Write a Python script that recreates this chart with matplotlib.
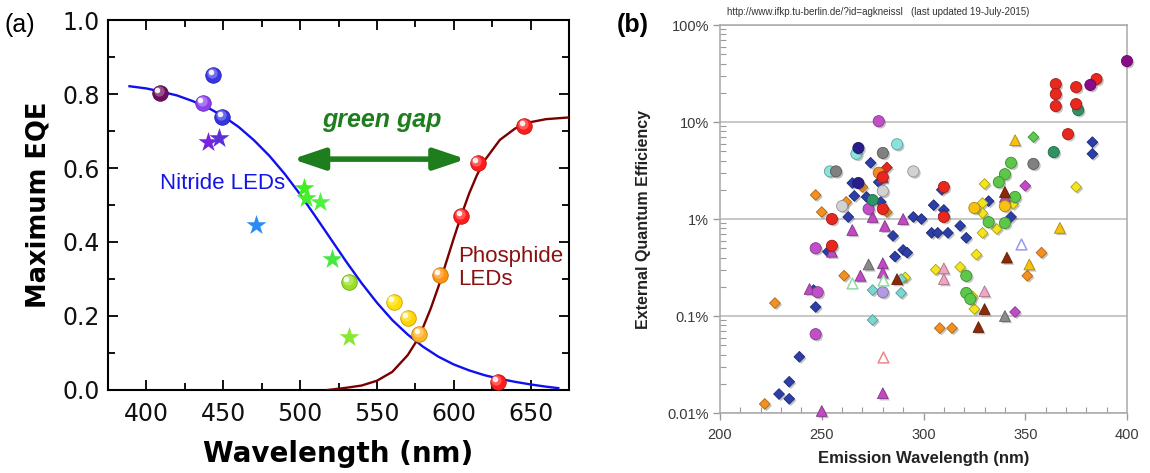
import matplotlib
matplotlib.use('Agg')
import matplotlib.pyplot as plt
import matplotlib.colors as mcolors
import matplotlib.transforms as mtransforms
import matplotlib.patheffects as pe
from matplotlib.patches import FancyArrowPatch
from matplotlib.ticker import MultipleLocator, LogLocator, NullFormatter

plt.rcParams['font.family'] = ['Liberation Sans', 'DejaVu Sans']

# ---- panel (a): maximum EQE of visible LEDs ----
nitride_curve_nm = [389, 400, 410, 420, 430, 440, 450, 460, 470, 480, 490, 500, 510, 520,
                    530, 540, 550, 560, 570, 580, 590, 600, 610, 620, 630, 640, 650, 660, 668]
nitride_curve_eqe = [0.821, 0.815, 0.806, 0.796, 0.781, 0.763, 0.740, 0.711, 0.675, 0.633,
                     0.584, 0.529, 0.469, 0.408, 0.347, 0.289, 0.236, 0.189, 0.150, 0.117,
                     0.090, 0.069, 0.053, 0.040, 0.030, 0.022, 0.015, 0.009, 0.005]
phosphide_curve_nm = [518, 530, 540, 550, 560, 570, 575, 580, 585, 590, 595, 600, 605, 610,
                      615, 620, 630, 640, 650, 660, 676]
phosphide_curve_eqe = [0.0, 0.006, 0.012, 0.025, 0.049, 0.094, 0.127, 0.169, 0.220, 0.279,
                       0.344, 0.410, 0.473, 0.531, 0.580, 0.620, 0.676, 0.707, 0.724, 0.732, 0.737]

ball_nm = [409, 443.6, 437, 449.5, 532, 561, 570, 577.6, 591, 605, 615.5, 646, 628.6]
ball_eqe = [0.803, 0.851, 0.776, 0.738, 0.292, 0.238, 0.195, 0.151, 0.311, 0.470, 0.614, 0.714, 0.022]
ball_colors = ['#6e0f5e', '#3a34e8', '#8c40f0', '#3434e4', '#98e024', '#ffe000', '#ffd400',
               '#ffb224', '#ff9410', '#ff1c1c', '#ff1c1c', '#ff1c1c', '#ff1c1c']

star_nm = [440, 447, 471, 502.5, 504, 513, 521, 532]
star_eqe = [0.670, 0.681, 0.446, 0.546, 0.519, 0.508, 0.354, 0.143]
star_colors = ['#7a22e0', '#5a30d8', '#2a8cf2', '#3cf020', '#46f030', '#50f040', '#44e840', '#86e830']

# ---- panel (b): deep-UV LED efficiencies (nm, EQE in %) ----
blue_dia_nm = [274, 265, 278, 266, 272, 279, 263, 295, 299, 285, 253, 290, 292, 286, 246, 247,
               239, 234, 229, 234, 383, 383, 309, 305, 332, 310, 310, 343, 318, 304, 307, 312, 321]
blue_dia_eqe = [3.8, 2.35, 2.4, 1.73, 1.69, 1.5, 1.05, 1.05, 1.0, 0.67, 0.46, 0.48, 0.45, 0.41,
                0.185, 0.124, 0.038, 0.021, 0.0157, 0.014, 6.2, 4.7, 2.0, 1.39, 1.53, 1.24, 1.10,
                1.05, 0.85, 0.72, 0.72, 0.72, 0.64]
orange_dia_nm = [270, 247, 262, 250, 282, 261, 227, 222, 358, 351, 308, 314]
orange_dia_eqe = [2.14, 1.77, 1.5, 1.18, 1.18, 0.26, 0.136, 0.0124, 0.45, 0.26, 0.075, 0.075]
yellow_dia_nm = [291, 330, 375, 329, 344, 329, 336, 329, 326, 306, 318, 324, 325]
yellow_dia_eqe = [0.25, 2.3, 2.14, 1.46, 1.43, 1.15, 0.79, 0.72, 0.43, 0.30, 0.32, 0.16, 0.118]
magenta_dia_nm = [350, 345]
magenta_dia_eqe = [2.2, 0.11]
cyan_dia_nm = [289, 275, 289, 275]
cyan_dia_eqe = [0.24, 0.185, 0.173, 0.091]
green_dia_nm = [354]
green_dia_eqe = [7.0]
red_dia_nm = [282]
red_dia_eqe = [3.4]

red_circ_nm = [280, 280, 255, 255, 310, 310, 371, 365, 365, 365, 375, 375, 385]
red_circ_eqe = [2.7, 1.27, 1.0, 0.53, 2.14, 1.05, 7.5, 24.6, 19.4, 14.6, 22.9, 15.3, 27.7]
magenta_circ_nm = [278, 273, 247, 248, 247]
magenta_circ_eqe = [10.2, 1.27, 0.50, 0.176, 0.065]
cyan_circ_nm = [287, 267, 254]
cyan_circ_eqe = [5.9, 4.7, 3.1]
gray_circ_nm = [280, 257, 354]
gray_circ_eqe = [4.8, 3.1, 3.7]
silver_circ_nm = [295, 280, 260]
silver_circ_eqe = [3.1, 1.95, 1.36]
navy_circ_nm = [268, 268]
navy_circ_eqe = [5.4, 2.35]
orange_circ_nm = [278]
orange_circ_eqe = [3.0]
green_circ_nm = [343, 340, 337, 345, 332, 340, 321, 321, 323]
green_circ_eqe = [3.8, 2.9, 2.4, 1.69, 0.93, 0.91, 0.26, 0.173, 0.15]
seagreen_circ_nm = [275, 364, 376]
seagreen_circ_eqe = [1.57, 4.9, 13.3]
gold_circ_nm = [325, 340]
gold_circ_eqe = [1.30, 1.36]
purple_circ_nm = [400, 382]
purple_circ_eqe = [42.5, 24.1]
lavender_circ_nm = [280]
lavender_circ_eqe = [0.176]

magenta_tri_nm = [280, 275, 290, 265, 281, 255, 280, 280, 269, 244, 250, 280, 340]
magenta_tri_eqe = [2.7, 1.05, 1.0, 0.77, 0.85, 0.46, 0.35, 0.28, 0.26, 0.19, 0.0105, 0.016, 1.69]
gray_tri_nm = [273, 340]
gray_tri_eqe = [0.34, 0.1]
brown_tri_nm = [287, 340, 341, 330, 327]
brown_tri_eqe = [0.24, 1.9, 0.40, 0.118, 0.077]
gold_tri_nm = [345, 367, 352]
gold_tri_eqe = [6.5, 0.81, 0.34]
pink_tri_nm = [310, 310, 330]
pink_tri_eqe = [0.31, 0.24, 0.18]
open_green_tri_nm = [265, 280]
open_green_tri_eqe = [0.22, 0.235]
open_pink_tri_nm = [280]
open_pink_tri_eqe = [0.038]
open_lav_tri_nm = [348]
open_lav_tri_eqe = [0.55]


def darker(c, f=0.6):
    r, g, b = mcolors.to_rgb(c)
    return (r * f, g * f, b * f)


def lighter(c, f=0.5):
    r, g, b = mcolors.to_rgb(c)
    return (r + (1 - r) * f, g + (1 - g) * f, b + (1 - b) * f)


fig = plt.figure(figsize=(11.5, 4.73), dpi=100)

# ================= panel (a) =================
axa = fig.add_axes([0.0939, 0.1755, 0.4009, 0.7822])
axa.set_xlim(375, 675)
axa.set_ylim(0, 1.0)

axa.plot(nitride_curve_nm, nitride_curve_eqe, color='#1010f0', lw=1.7, zorder=3)
axa.plot(phosphide_curve_nm, phosphide_curve_eqe, color='#7a0000', lw=1.7, zorder=3)

# glossy spheres: base, soft glow and specular spot
hl1 = mtransforms.offset_copy(axa.transData, fig=fig, x=-1.2, y=1.2, units='points')
hl2 = mtransforms.offset_copy(axa.transData, fig=fig, x=-2.0, y=2.0, units='points')
for x, y, c in zip(ball_nm, ball_eqe, ball_colors):
    axa.scatter([x], [y], s=125, color=c, edgecolors=darker(c, 0.75), linewidths=0.6, zorder=5)
    axa.scatter([x], [y], s=55, color=lighter(c, 0.35), linewidths=0, alpha=0.8,
                transform=hl1, zorder=6)
    axa.scatter([x], [y], s=16, color='white', linewidths=0, alpha=0.9,
                transform=hl2, zorder=7)

for x, y, c in zip(star_nm, star_eqe, star_colors):
    axa.scatter([x], [y], s=230, marker='*', color=c, linewidths=0, zorder=5)

arrow = FancyArrowPatch((495, 0.624), (608, 0.624),
                        arrowstyle='<|-|>,head_length=0.95,head_width=0.32',
                        mutation_scale=20, lw=4, color='#1e7e1e',
                        shrinkA=0, shrinkB=0, zorder=4)
axa.add_patch(arrow)
axa.text(553, 0.73, 'green gap', color='#1e7e1e', fontsize=18, fontweight='bold',
         fontstyle='italic', ha='center', va='center')
axa.text(409, 0.559, 'Nitride LEDs', color='#1414e6', fontsize=16, ha='left', va='center')
axa.text(603, 0.33, 'Phosphide\nLEDs', color='#8b1010', fontsize=16, ha='left',
         va='center', linespacing=1.15)

axa.xaxis.set_major_locator(MultipleLocator(50))
axa.xaxis.set_minor_locator(MultipleLocator(25))
axa.yaxis.set_major_locator(MultipleLocator(0.2))
axa.yaxis.set_minor_locator(MultipleLocator(0.1))
axa.yaxis.set_major_formatter(plt.FuncFormatter(lambda v, p: '%.1f' % v))
axa.tick_params(which='both', direction='in', top=True, right=True, width=1.4,
                labelsize=17, colors='#111111')
axa.tick_params(which='major', length=7)
axa.tick_params(which='minor', length=5)
axa.tick_params(axis='x', pad=9)
axa.tick_params(axis='y', pad=6)
for lab in axa.get_xticklabels() + axa.get_yticklabels():
    lab.set_family('DejaVu Sans')
for s in axa.spines.values():
    s.set_linewidth(1.5)
axa.set_xlabel('Wavelength (nm)', fontsize=20, fontweight='bold', family='DejaVu Sans',
               labelpad=10)
axa.set_ylabel('Maximum EQE', fontsize=18.5, fontweight='bold', family='DejaVu Sans',
               labelpad=8)

fig.text(0.004, 0.972, '(a)', fontsize=18, ha='left', va='top')

# ================= panel (b) =================
axb = fig.add_axes([0.6261, 0.1268, 0.3539, 0.8203])
axb.set_yscale('log')
axb.set_xlim(200, 400)
axb.set_ylim(0.01, 100)

shadow = [pe.SimplePatchShadow(offset=(1.3, -1.3), shadow_rgbFace='#555555', alpha=0.35),
          pe.Normal()]

filled = [
    (blue_dia_nm, blue_dia_eqe, 'D', '#2c3ea8'),
    (orange_dia_nm, orange_dia_eqe, 'D', '#f39020'),
    (yellow_dia_nm, yellow_dia_eqe, 'D', '#f2e41e'),
    (magenta_dia_nm, magenta_dia_eqe, 'D', '#c24ac8'),
    (cyan_dia_nm, cyan_dia_eqe, 'D', '#7ad8d0'),
    (green_dia_nm, green_dia_eqe, 'D', '#5ccc4c'),
    (red_dia_nm, red_dia_eqe, 'D', '#e8281e'),
    (magenta_tri_nm, magenta_tri_eqe, '^', '#c04ac4'),
    (gray_tri_nm, gray_tri_eqe, '^', '#8a8a8a'),
    (pink_tri_nm, pink_tri_eqe, '^', '#f2a4c4'),
    (gold_tri_nm, gold_tri_eqe, '^', '#f6c20e'),
    (cyan_circ_nm, cyan_circ_eqe, 'o', '#8ae4dc'),
    (gray_circ_nm, gray_circ_eqe, 'o', '#808080'),
    (silver_circ_nm, silver_circ_eqe, 'o', '#d2d2d2'),
    (navy_circ_nm, navy_circ_eqe, 'o', '#2a1e8c'),
    (orange_circ_nm, orange_circ_eqe, 'o', '#f08a2a'),
    (magenta_circ_nm, magenta_circ_eqe, 'o', '#c050c8'),
    (lavender_circ_nm, lavender_circ_eqe, 'o', '#b49ae0'),
    (green_circ_nm, green_circ_eqe, 'o', '#5cc84a'),
    (seagreen_circ_nm, seagreen_circ_eqe, 'o', '#2e9464'),
    (gold_circ_nm, gold_circ_eqe, 'o', '#f8c010'),
    (red_circ_nm, red_circ_eqe, 'o', '#e8281e'),
    (purple_circ_nm, purple_circ_eqe, 'o', '#8a0a8a'),
    (brown_tri_nm, brown_tri_eqe, '^', '#8c2a08'),
]
sizes = {'D': 30, 'o': 64, '^': 60}
for xs, ys, m, c in filled:
    axb.scatter(xs, ys, s=sizes[m], marker=m, color=c, edgecolors=darker(c, 0.7),
                linewidths=0.6, zorder=4, clip_on=False, path_effects=shadow)

hollow = [
    (open_green_tri_nm, open_green_tri_eqe, '#90dca4'),
    (open_pink_tri_nm, open_pink_tri_eqe, '#ee8888'),
    (open_lav_tri_nm, open_lav_tri_eqe, '#9a9ae6'),
]
for xs, ys, c in hollow:
    axb.scatter(xs, ys, s=60, marker='^', facecolors='white', edgecolors=c,
                linewidths=1.1, zorder=4, clip_on=False)

axb.yaxis.grid(True, which='major', color='#bdbdbd', lw=1.2, zorder=0)
axb.set_axisbelow(True)
axb.set_yticks([0.01, 0.1, 1, 10, 100])
axb.set_yticklabels(['0.01%', '0.1%', '1%', '10%', '100%'])
axb.yaxis.set_minor_locator(LogLocator(base=10, subs=range(2, 10)))
axb.yaxis.set_minor_formatter(NullFormatter())
axb.xaxis.set_major_locator(MultipleLocator(50))
axb.xaxis.set_minor_locator(MultipleLocator(10))
axb.tick_params(which='major', direction='out', length=5, width=1, color='#9a9a9a',
                labelsize=10.5, labelcolor='#3a3a3a', pad=3)
axb.tick_params(which='minor', direction='in', length=4, width=0.8, color='#9a9a9a')
axb.tick_params(axis='x', pad=6)
for s in axb.spines.values():
    s.set_color('#a8a8a8')
    s.set_linewidth(1.1)
axb.set_xlabel('Emission Wavelength (nm)', fontsize=12, fontweight='bold', color='#222222',
               labelpad=6)
axb.set_ylabel('External Quantum Efficiency', fontsize=11.5, fontweight='bold',
               color='#222222', labelpad=12)

fig.text(0.632, 0.974, 'http://www.ifkp.tu-berlin.de/?id=agkneissl   (last updated 19-July-2015)',
         fontsize=7, color='#333333', ha='left', va='center')
fig.text(0.5365, 0.972, '(b)', fontsize=18, fontweight='bold', ha='left', va='top')

fig.savefig('out.png', dpi=100)
